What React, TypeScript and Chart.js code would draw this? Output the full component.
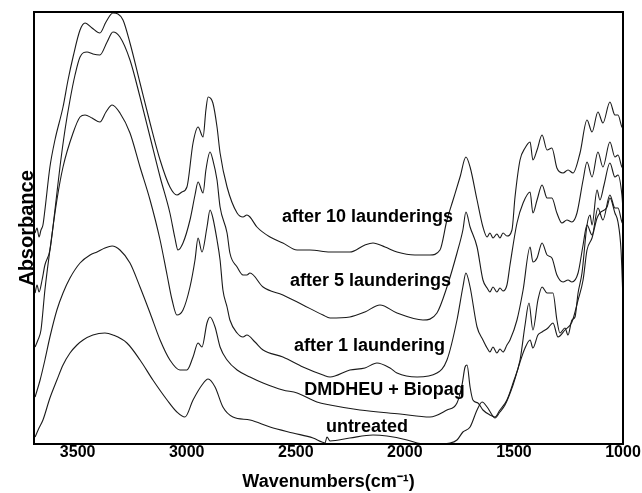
import { useEffect, useRef } from "react";
import { Chart, registerables } from "chart.js";

Chart.register(...registerables);

// Wavenumber axis (cm-1), drawn reversed from 3700 down to 1000
const xTickValues = [1000, 1500, 2000, 2500, 3000, 3500];
const xMin = 1000;
const xMax = 3700;
const yMin = 0;
const yMax = 4.32;

const seriesNames = [
  "after 10 launderings",
  "after 5 launderings",
  "after 1 laundering",
  "DMDHEU + Biopag",
  "untreated",
];

// [wavenumber, absorbance (arbitrary, stacked)]
const afterTenLaunderings: [number, number][] = [
  [3695, 2.11], [3686, 2.16], [3677, 2.07], [3668, 2.14], [3659, 2.19], [3650, 2.34], [3627, 2.77],
  [3604, 3.04], [3567, 3.37], [3544, 3.64], [3521, 3.87], [3489, 4.14], [3466, 4.21], [3434, 4.16],
  [3398, 4.11], [3370, 4.22], [3338, 4.31], [3315, 4.3], [3292, 4.24], [3260, 4.01], [3214, 3.61],
  [3168, 3.21], [3122, 2.84], [3077, 2.57], [3045, 2.49], [3022, 2.52], [2999, 2.57], [2971, 3.01],
  [2948, 3.17], [2925, 3.07], [2912, 3.34], [2902, 3.47], [2880, 3.41], [2861, 3.17], [2847, 2.91],
  [2815, 2.57], [2769, 2.31], [2742, 2.27], [2724, 2.29], [2710, 2.27], [2678, 2.17], [2618, 2.07],
  [2559, 2.01], [2494, 1.94], [2435, 1.94], [2343, 1.92], [2252, 1.92], [2183, 1.99], [2146, 2.01],
  [2091, 1.97], [2036, 1.92], [1954, 1.89], [1885, 1.89], [1839, 1.94], [1807, 2.24], [1779, 2.44],
  [1747, 2.67], [1720, 2.87], [1701, 2.77], [1669, 2.44], [1642, 2.17], [1623, 2.07], [1610, 2.11],
  [1596, 2.06], [1578, 2.1], [1564, 2.06], [1550, 2.11], [1532, 2.08], [1509, 2.14], [1495, 2.47],
  [1472, 2.84], [1449, 2.96], [1426, 3.02], [1413, 2.84], [1394, 2.94], [1371, 3.09], [1348, 2.94],
  [1326, 2.96], [1303, 2.76], [1275, 2.71], [1252, 2.74], [1229, 2.71], [1197, 2.91], [1165, 3.24],
  [1142, 3.12], [1115, 3.32], [1092, 3.21], [1060, 3.42], [1037, 3.29], [1023, 3.29], [1005, 3.17],
  [1000, 3.16],
];

const afterFiveLaunderings: [number, number][] = [
  [3695, 1.51], [3686, 1.59], [3677, 1.52], [3663, 1.64], [3650, 1.79], [3627, 1.94], [3604, 2.34],
  [3581, 2.77], [3558, 3.14], [3535, 3.44], [3512, 3.69], [3489, 3.87], [3457, 3.92], [3430, 3.9],
  [3398, 3.89], [3365, 4.02], [3338, 4.12], [3306, 4.07], [3260, 3.84], [3214, 3.47], [3168, 3.07],
  [3122, 2.67], [3077, 2.31], [3054, 2.06], [3040, 1.94], [3017, 2.01], [2985, 2.24], [2962, 2.49],
  [2948, 2.62], [2925, 2.51], [2912, 2.74], [2893, 2.92], [2880, 2.84], [2861, 2.64], [2847, 2.37],
  [2815, 2.11], [2802, 1.91], [2769, 1.77], [2742, 1.69], [2724, 1.69], [2710, 1.71], [2650, 1.57],
  [2559, 1.49], [2467, 1.39], [2375, 1.29], [2343, 1.26], [2252, 1.27], [2183, 1.32], [2114, 1.39],
  [2036, 1.31], [1917, 1.24], [1853, 1.31], [1807, 1.57], [1761, 1.91], [1734, 2.14], [1720, 2.32],
  [1701, 2.17], [1669, 1.97], [1642, 1.64], [1623, 1.56], [1610, 1.52], [1596, 1.57], [1578, 1.52],
  [1564, 1.56], [1550, 1.53], [1532, 1.59], [1518, 1.79], [1486, 2.21], [1458, 2.41], [1426, 2.52],
  [1413, 2.31], [1394, 2.44], [1371, 2.59], [1348, 2.46], [1326, 2.46], [1303, 2.31], [1280, 2.21],
  [1257, 2.24], [1234, 2.22], [1211, 2.31], [1183, 2.64], [1165, 2.82], [1142, 2.67], [1115, 2.92],
  [1092, 2.77], [1060, 3.02], [1037, 2.87], [1023, 2.89], [1005, 2.77], [1000, 2.76],
];

const afterOneLaundering: [number, number][] = [
  [3695, 0.97], [3682, 1.04], [3668, 1.14], [3650, 1.54], [3627, 1.94], [3595, 2.44], [3567, 2.77],
  [3521, 3.11], [3489, 3.27], [3466, 3.29], [3434, 3.26], [3398, 3.22], [3370, 3.32], [3342, 3.39],
  [3306, 3.31], [3260, 3.11], [3214, 2.77], [3168, 2.44], [3122, 2.04], [3090, 1.69], [3067, 1.44],
  [3045, 1.29], [3017, 1.34], [2985, 1.57], [2962, 1.84], [2948, 2.06], [2930, 1.92], [2907, 2.17],
  [2893, 2.34], [2880, 2.26], [2861, 2.04], [2847, 1.84], [2834, 1.54], [2815, 1.37], [2802, 1.24],
  [2769, 1.11], [2742, 1.07], [2724, 1.09], [2687, 1.02], [2650, 0.94], [2559, 0.87], [2467, 0.77],
  [2375, 0.69], [2343, 0.67], [2252, 0.74], [2183, 0.76], [2128, 0.81], [2068, 0.76], [2036, 0.71],
  [1944, 0.67], [1853, 0.71], [1807, 0.84], [1761, 1.24], [1734, 1.57], [1720, 1.71], [1701, 1.57],
  [1669, 1.17], [1642, 1.04], [1623, 0.96], [1610, 0.92], [1596, 0.97], [1578, 0.91], [1564, 0.95],
  [1550, 0.92], [1532, 0.99], [1518, 1.04], [1486, 1.24], [1458, 1.54], [1426, 1.97], [1413, 1.82],
  [1394, 1.86], [1371, 2.01], [1348, 1.89], [1326, 1.86], [1303, 1.69], [1275, 1.62], [1252, 1.64],
  [1234, 1.62], [1206, 1.71], [1183, 1.99], [1165, 2.19], [1142, 2.09], [1115, 2.36], [1092, 2.24],
  [1060, 2.49], [1037, 2.36], [1023, 2.36], [1005, 2.22], [1000, 2.2],
];

const dmdheuBiopag: [number, number][] = [
  [3695, 0.47], [3672, 0.64], [3650, 0.84], [3627, 1.07], [3595, 1.34], [3567, 1.51], [3535, 1.66],
  [3489, 1.81], [3443, 1.89], [3411, 1.92], [3375, 1.96], [3342, 1.98], [3306, 1.94], [3260, 1.81],
  [3214, 1.57], [3168, 1.31], [3122, 1.04], [3077, 0.84], [3031, 0.74], [2999, 0.74], [2971, 0.87],
  [2948, 1.01], [2930, 0.97], [2907, 1.21], [2893, 1.27], [2870, 1.17], [2847, 0.97], [2815, 0.84],
  [2769, 0.74], [2710, 0.67], [2650, 0.61], [2559, 0.54], [2494, 0.51], [2403, 0.42], [2343, 0.39],
  [2206, 0.34], [2022, 0.3], [1885, 0.27], [1807, 0.34], [1761, 0.41], [1738, 0.59], [1724, 0.77],
  [1715, 0.79], [1701, 0.57], [1688, 0.44], [1665, 0.41], [1642, 0.34], [1610, 0.29], [1587, 0.27],
  [1564, 0.34], [1532, 0.44], [1504, 0.61], [1472, 0.84], [1449, 1.19], [1431, 1.41], [1413, 1.14],
  [1390, 1.44], [1371, 1.57], [1348, 1.51], [1321, 1.51], [1303, 1.24], [1289, 1.11], [1266, 1.16],
  [1252, 1.09], [1234, 1.24], [1220, 1.27], [1206, 1.51], [1188, 1.71], [1165, 2.19], [1151, 2.29],
  [1142, 2.19], [1119, 2.54], [1106, 2.44], [1087, 2.59], [1060, 2.81], [1037, 2.67], [1023, 2.69],
  [1005, 2.49], [1000, 2.34],
];

const untreated: [number, number][] = [
  [3695, 0.07], [3677, 0.16], [3659, 0.24], [3627, 0.46], [3595, 0.64], [3567, 0.79], [3535, 0.91],
  [3503, 0.99], [3475, 1.04], [3430, 1.09], [3375, 1.11], [3338, 1.09], [3274, 1.01], [3214, 0.84],
  [3155, 0.64], [3090, 0.44], [3045, 0.32], [3008, 0.27], [2971, 0.44], [2930, 0.59], [2902, 0.65],
  [2870, 0.57], [2834, 0.37], [2788, 0.27], [2710, 0.24], [2618, 0.17], [2513, 0.11], [2421, 0.06],
  [2380, 0.02], [2366, 0.01], [2357, 0.07], [2343, 0.03], [2252, 0.06], [2146, 0.09], [2082, 0.08],
  [1990, 0.04], [1944, 0.01], [1871, 0.0], [1793, 0.01], [1761, 0.04], [1734, 0.12], [1701, 0.17],
  [1669, 0.34], [1646, 0.42], [1623, 0.37], [1600, 0.29], [1587, 0.26], [1564, 0.32], [1541, 0.39],
  [1504, 0.59], [1472, 0.82], [1449, 0.96], [1426, 1.04], [1413, 0.96], [1390, 1.09], [1371, 1.12],
  [1344, 1.16], [1321, 1.21], [1298, 1.07], [1266, 1.14], [1234, 1.22], [1206, 1.44], [1183, 1.64],
  [1165, 1.94], [1142, 2.06], [1119, 2.26], [1106, 2.31], [1073, 2.37], [1060, 2.46], [1037, 2.31],
  [1023, 2.22], [1009, 1.94], [1000, 1.44],
];

// Curve label anchors: [wavenumber at text centre, absorbance at text baseline]
const labelWavenumbers = [2171, 2157, 2162, 2093, 2174];
const labelAbsorbance = [2.22, 1.58, 0.93, 0.49, 0.12];

const FONT = "'Liberation Sans', Arial, Helvetica, sans-serif";

export default function App() {
  const canvasRef = useRef<HTMLCanvasElement>(null);

  useEffect(() => {
    const series = [afterTenLaunderings, afterFiveLaunderings, afterOneLaundering, dmdheuBiopag, untreated];

    const curveLabels = {
      id: "curveLabels",
      afterDatasetsDraw(chart: any) {
        const { ctx, chartArea, scales } = chart;
        ctx.save();
        ctx.font = `bold 18px ${FONT}`;
        ctx.fillStyle = "#000";
        ctx.textAlign = "center";
        ctx.textBaseline = "alphabetic";
        seriesNames.forEach((name, i) => {
          ctx.fillText(
            name,
            scales.x.getPixelForValue(labelWavenumbers[i]),
            scales.y.getPixelForValue(labelAbsorbance[i])
          );
        });
        ctx.lineWidth = 2;
        ctx.strokeStyle = "#000";
        ctx.strokeRect(
          chartArea.left,
          chartArea.top,
          chartArea.right - chartArea.left,
          chartArea.bottom - chartArea.top
        );
        ctx.restore();
      },
    };

    const chart = new Chart(canvasRef.current as HTMLCanvasElement, {
      type: "line",
      data: {
        datasets: series.map((s, i) => ({
          label: seriesNames[i],
          data: s.map(([x, y]) => ({ x, y })),
          borderColor: "#1a1a1a",
          borderWidth: 1.1,
          pointRadius: 0,
          fill: false,
          cubicInterpolationMode: "monotone" as const,
        })),
      },
      options: {
        animation: false,
        responsive: false,
        layout: { padding: { top: 12, right: 19, left: 0, bottom: 0 } },
        plugins: {
          legend: { display: false },
          tooltip: { enabled: false },
        },
        scales: {
          x: {
            type: "linear",
            reverse: true,
            min: xMin,
            max: xMax,
            grid: { display: false, drawTicks: false },
            border: { display: false },
            afterBuildTicks: (scale: any) => {
              scale.ticks = xTickValues.map((v) => ({ value: v }));
            },
            afterFit: (scale: any) => {
              scale.height = 49;
            },
            ticks: {
              autoSkip: false,
              maxRotation: 0,
              padding: 0,
              color: "#000",
              font: { family: FONT, size: 16, weight: "bold", lineHeight: 1.1 },
              callback: (v: any) => String(v),
            },
            title: {
              display: true,
              text: "Wavenumbers(cm⁻¹)",
              color: "#000",
              font: { family: FONT, size: 18, weight: "bold" },
              padding: { top: 0, bottom: 0 },
            },
          },
          y: {
            type: "linear",
            min: yMin,
            max: yMax,
            grid: { display: false, drawTicks: false },
            border: { display: false },
            ticks: { display: false },
            afterFit: (scale: any) => {
              scale.width = 34;
            },
            title: {
              display: true,
              text: "Absorbance",
              color: "#000",
              font: { family: FONT, size: 20, weight: "bold" },
              padding: { top: 15, bottom: 0 },
            },
          },
        },
      },
      plugins: [curveLabels],
    });

    return () => chart.destroy();
  }, []);

  return (
    <div style={{ position: "absolute", left: 0, top: 0, width: 642, height: 493, background: "#fff" }}>
      <canvas ref={canvasRef} width={642} height={493} style={{ display: "block" }} />
    </div>
  );
}
